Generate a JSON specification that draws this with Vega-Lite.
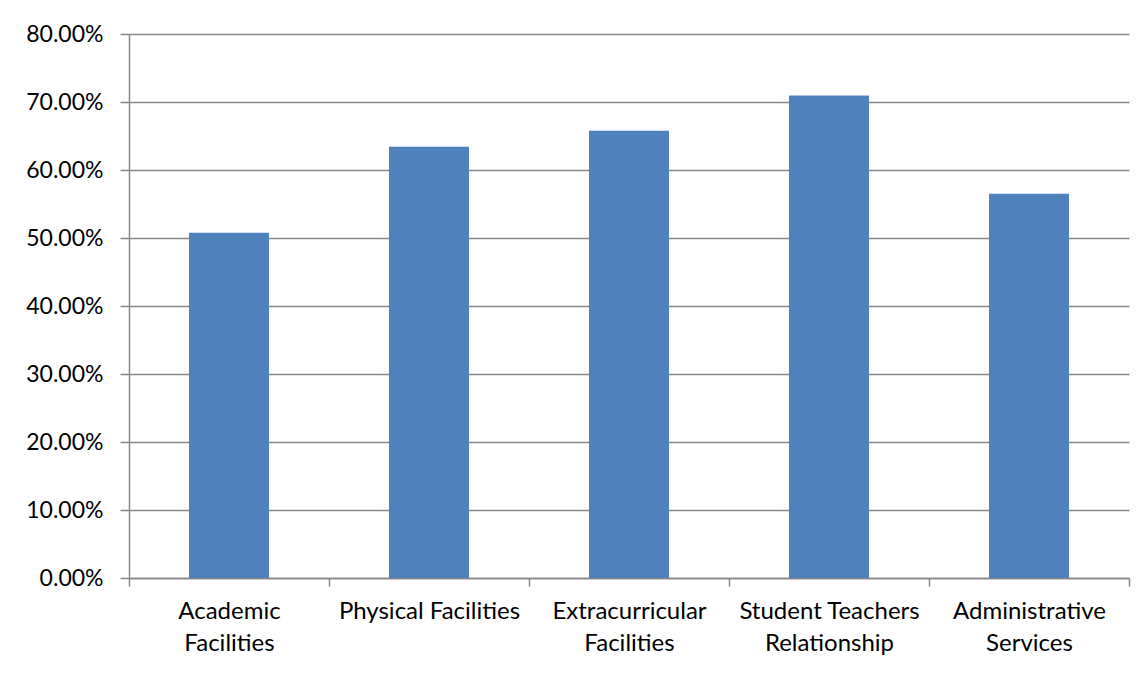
{
  "$schema": "https://vega.github.io/schema/vega-lite/v6.json",
  "autosize": {"type": "none"},
  "width": 1000,
  "height": 544,
  "padding": {"left": 129, "top": 34, "right": 16, "bottom": 95},
  "background": "white",
  "config": {
    "view": {"stroke": null},
    "font": "Lato"
  },
  "data": {
    "values": [
      {"category": "Academic Facilities", "value": 0.5077},
      {"category": "Physical Facilities", "value": 0.6343},
      {"category": "Extracurricular Facilities", "value": 0.6579},
      {"category": "Student Teachers Relationship", "value": 0.7094},
      {"category": "Administrative Services", "value": 0.5651}
    ]
  },
  "mark": {"type": "bar", "color": "#4F81BD", "width": {"band": 0.4}},
  "encoding": {
    "x": {
      "field": "category",
      "type": "nominal",
      "sort": null,
      "scale": {"paddingInner": 0, "paddingOuter": 0},
      "axis": {
        "title": null,
        "labelAngle": 0,
        "labelFont": "Lato",
        "labelFontSize": 24,
        "labelColor": "#000000",
        "labelLineHeight": 32,
        "labelPadding": 13,
        "labelLimit": 400,
        "tickBand": "extent",
        "tickSize": 8,
        "tickColor": "#868686",
        "domainColor": "#868686",
        "domainWidth": 1.5,
        "tickWidth": 1.5,
        "labelExpr": "datum.label == 'Academic Facilities' ? ['Academic', 'Facilities'] : datum.label == 'Extracurricular Facilities' ? ['Extracurricular', 'Facilities'] : datum.label == 'Student Teachers Relationship' ? ['Student Teachers', 'Relationship'] : datum.label == 'Administrative Services' ? ['Administrative', 'Services'] : datum.label"
      }
    },
    "y": {
      "field": "value",
      "type": "quantitative",
      "scale": {"domain": [0, 0.8], "nice": false},
      "axis": {
        "title": null,
        "format": ".2%",
        "values": [0, 0.1, 0.2, 0.3, 0.4, 0.5, 0.6, 0.7, 0.8],
        "labelFont": "Lato",
        "labelFontSize": 23,
        "labelColor": "#000000",
        "labelPadding": 17,
        "tickSize": 9,
        "tickColor": "#868686",
        "tickWidth": 1.5,
        "domainColor": "#868686",
        "domainWidth": 1.5,
        "grid": true,
        "gridColor": "#868686",
        "gridWidth": 1.5
      }
    }
  }
}
